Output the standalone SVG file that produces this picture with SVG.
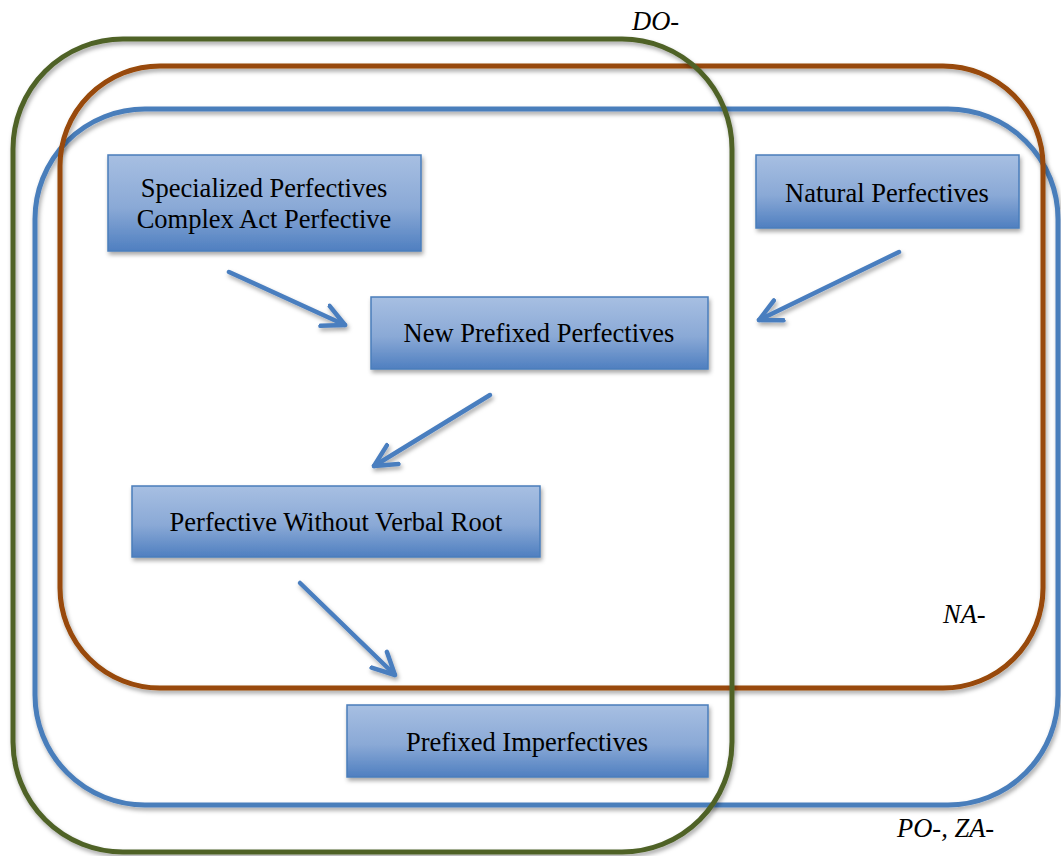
<svg xmlns="http://www.w3.org/2000/svg" width="1061" height="856" viewBox="0 0 1061 856">
  <defs>
    <linearGradient id="boxFill" x1="0" y1="0" x2="0" y2="1">
      <stop offset="0" stop-color="#a7bfe2"/>
      <stop offset="0.55" stop-color="#8aa9d6"/>
      <stop offset="1" stop-color="#4f7fc0"/>
    </linearGradient>
    <filter id="shadow" x="-10%" y="-10%" width="120%" height="130%">
      <feDropShadow dx="1.5" dy="3" stdDeviation="2" flood-color="#000" flood-opacity="0.35"/>
    </filter>
    <marker id="chev" markerUnits="userSpaceOnUse" markerWidth="30" markerHeight="30" refX="24" refY="12" orient="auto" viewBox="0 0 30 24">
      <path d="M2,1 L24,12 L2,23" fill="none" stroke="#4a7ebf" stroke-width="4.5" stroke-linecap="round" stroke-linejoin="round"/>
    </marker>
    <style>
      .set { fill: none; stroke-width: 5; filter: url(#shadow); }
      .box { fill: url(#boxFill); stroke: #4a7ebb; stroke-width: 1.5; filter: url(#shadow); }
      .lbl { font-family: "Liberation Serif", "Times New Roman", serif; font-size: 26.5px; fill: #000; text-anchor: middle; }
      .tag { font-family: "Liberation Serif", "Times New Roman", serif; font-size: 26.5px; font-style: italic; fill: #000; }
      .arr { stroke: #4a7ebf; stroke-width: 4.5; fill: none; stroke-linecap: round; marker-end: url(#chev); filter: url(#shadow); }
    </style>
  </defs>
  <rect width="1061" height="856" fill="#fff"/>

  <!-- prefix sets -->
  <g id="set-po-za">
    <rect class="set" x="35" y="109" width="1023" height="696" rx="110" ry="110" stroke="#4a7ebb"/>
    <text class="tag" x="897" y="837">PO-, ZA-</text>
  </g>
  <g id="set-na">
    <rect class="set" x="60" y="66" width="983" height="622" rx="100" ry="100" stroke="#984807"/>
    <text class="tag" x="943" y="623">NA-</text>
  </g>
  <g id="set-do">
    <rect class="set" x="13" y="39" width="719" height="813" rx="110" ry="110" stroke="#4f6228"/>
    <text class="tag" x="632" y="30">DO-</text>
  </g>

  <!-- connectors -->
  <g id="connectors">
    <line class="arr" x1="468" y1="203" x2="706" y2="203"/>
    <line class="arr" x1="229" y1="272" x2="345" y2="325"/>
    <line class="arr" x1="899" y1="252" x2="759" y2="320"/>
    <line class="arr" x1="490" y1="395" x2="374" y2="466"/>
    <line class="arr" x1="612" y1="420" x2="612" y2="656"/>
    <line class="arr" x1="300" y1="583" x2="395" y2="675"/>
  </g>

  <!-- nodes -->
  <g id="node-specialized">
    <rect class="box" x="108" y="155" width="313" height="96"/>
    <text class="lbl" x="264" y="197">Specialized Perfectives</text>
    <text class="lbl" x="264" y="228">Complex Act Perfective</text>
  </g>
  <g id="node-natural">
    <rect class="box" x="756" y="155" width="263" height="73"/>
    <text class="lbl" x="887" y="202">Natural Perfectives</text>
  </g>
  <g id="node-new-prefixed">
    <rect class="box" x="371" y="297" width="337" height="72"/>
    <text class="lbl" x="539" y="342">New Prefixed Perfectives</text>
  </g>
  <g id="node-without-root">
    <rect class="box" x="132" y="486" width="408" height="71"/>
    <text class="lbl" x="336" y="531">Perfective Without Verbal Root</text>
  </g>
  <g id="node-imperfectives">
    <rect class="box" x="347" y="705" width="361" height="72"/>
    <text class="lbl" x="527" y="751">Prefixed Imperfectives</text>
  </g>
</svg>
